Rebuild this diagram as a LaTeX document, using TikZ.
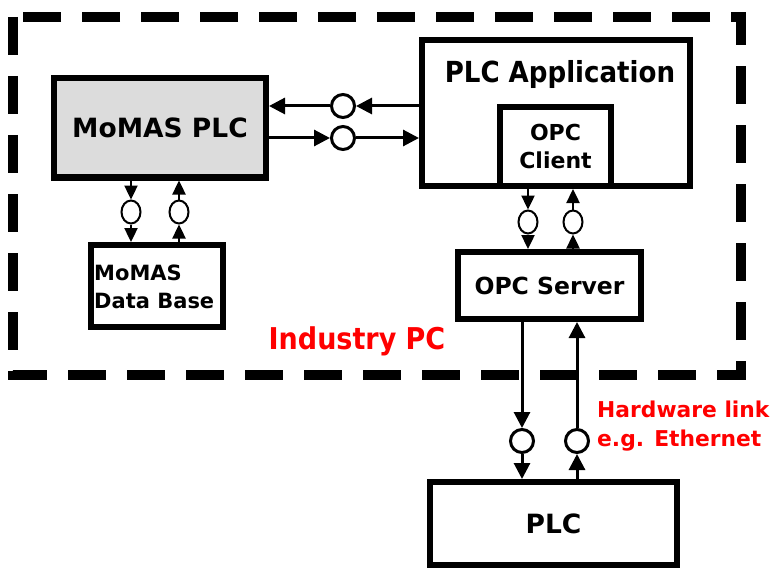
\documentclass[tikz,border=0pt]{standalone}
\usepackage{fontspec}
\setmainfont{DejaVu Sans}
\newfontfamily\condfont{DejaVu Sans Condensed}
\usetikzlibrary{arrows.meta,shapes.geometric}
\definecolor{boxgray}{RGB}{220,220,220}
\definecolor{lblred}{RGB}{255,0,0}
\begin{document}
\begin{tikzpicture}[x=1pt,y=-1pt,
 box/.style={draw,line width=6pt,inner sep=0pt,font=\bfseries},
 ring/.style={draw,circle,line width=3pt,minimum size=23pt,inner sep=0pt},
 sring/.style={draw,ellipse,line width=2pt,minimum width=19pt,minimum height=23pt,inner sep=0pt},
 arr/.style={line width=3pt,-{Triangle[length=16pt,width=16pt]}},
 sarr/.style={line width=2.4pt,-{Triangle[length=14pt,width=13pt]}},
 redlbl/.style={text=lblred,font=\bfseries,inner sep=0pt}]
\useasboundingbox (0,0) rectangle (770,572);
\draw[line width=10pt,dash pattern=on 38pt off 21pt] (13,17) rectangle (741,375);
% boxes
\node[box,fill=boxgray,minimum width=212pt,minimum height=99pt,font=\bfseries\fontsize{26.5}{30}\selectfont] (momas) at (160,128) {MoMAS PLC};
\node[box,minimum width=268pt,minimum height=146pt] (app) at (556,113) {};
\node[font=\condfont\bfseries\fontsize{29}{30}\selectfont,inner sep=0pt] (apptxt) at (560,75) {PLC Application};
\node[box,minimum width=111pt,minimum height=79pt,align=center,font=\bfseries\fontsize{22}{28}\selectfont] (client) at (555.5,146.5) {OPC\\Client};
\node[box,minimum width=132pt,minimum height=82pt] (dbase) at (157,286) {};
\node[anchor=west,align=left,inner sep=0pt,font=\bfseries\fontsize{21}{28}\selectfont] (dbtxt) at (94,287) {MoMAS\\Data Base};
\node[box,minimum width=183pt,minimum height=67pt,font=\bfseries\fontsize{23.5}{26}\selectfont] (server) at (549.5,285.5) {OPC Server};
\node[box,minimum width=247pt,minimum height=83pt,font=\bfseries\fontsize{26.5}{30}\selectfont] (plc) at (553.5,523.5) {PLC};
% rings
\node[ring] (c1) at (343,106) {};
\node[ring] (c2) at (343,138) {};
\node[sring] (c3) at (131,212) {};
\node[sring] (c4) at (179,212) {};
\node[sring] (c5) at (528,222) {};
\node[sring] (c6) at (573,222) {};
\node[ring] (c7) at (522,441) {};
\node[ring] (c8) at (577,441) {};
% connectors
\draw[arr] (app.west |- c1) -- (c1);
\draw[arr] (c1) -- (momas.east |- c1);
\draw[arr] (momas.east |- c2) -- (c2);
\draw[arr] (c2) -- (app.west |- c2);
\draw[sarr] (momas.south -| c3) -- (c3);
\draw[sarr] (c3) -- (dbase.north -| c3);
\draw[sarr] (dbase.north -| c4) -- (c4);
\draw[sarr] (c4) -- (momas.south -| c4);
\draw[sarr] (app.south -| c5) -- (c5);
\draw[sarr] (c5) -- (server.north -| c5);
\draw[sarr] (server.north -| c6) -- (c6);
\draw[sarr] (c6) -- (app.south -| c6);
\draw[arr] (server.south -| c7) -- (c7);
\draw[arr] (c7) -- (plc.north -| c7);
\draw[arr] (plc.north -| c8) -- (c8);
\draw[arr] (c8) -- (server.south -| c8);
% labels
\node[redlbl,font=\condfont\bfseries\fontsize{30}{30}\selectfont] (ipc) at (357,341) {Industry PC};
\node[redlbl,anchor=north west,align=left,font=\bfseries\fontsize{21.8}{29}\selectfont] (hw) at (597,401) {Hardware link\\e.g. Ethernet};
\end{tikzpicture}
\end{document}
